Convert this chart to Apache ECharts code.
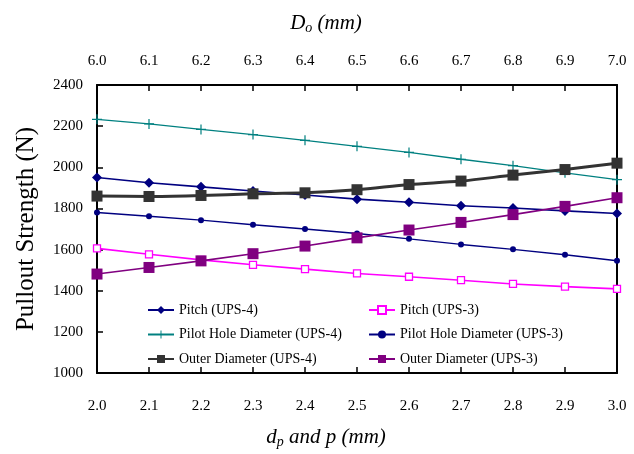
<!DOCTYPE html>
<html>
<head>
<meta charset="utf-8">
<script src="https://cdn.jsdelivr.net/npm/echarts@6/dist/echarts.min.js"></script>
<style>html,body{margin:0;padding:0;background:#fff}#c{width:634px;height:454px}</style>
</head>
<body>
<div id="c"></div>
<script>
var dp = [2.0, 2.1, 2.2, 2.3, 2.4, 2.5, 2.6, 2.7, 2.8, 2.9, 3.0];
var Do = [6.0, 6.1, 6.2, 6.3, 6.4, 6.5, 6.6, 6.7, 6.8, 6.9, 7.0];
var pitchUPS4 = [1950, 1925, 1905, 1885, 1865, 1845, 1830, 1813, 1802, 1788, 1775];
var pitchUPS3 = [1606, 1577, 1550, 1526, 1505, 1484, 1468, 1451, 1433, 1420, 1409];
var pilotUPS4 = [2233, 2211, 2184, 2159, 2131, 2102, 2072, 2039, 2008, 1973, 1940];
var pilotUPS3 = [1780, 1762, 1743, 1721, 1700, 1678, 1652, 1625, 1601, 1575, 1546];
var outerUPS4 = [1860, 1858, 1863, 1871, 1876, 1891, 1916, 1933, 1962, 1989, 2020];
var outerUPS3 = [1481, 1513, 1545, 1580, 1617, 1657, 1695, 1732, 1770, 1810, 1852];
var yTicks = {min: 1000, max: 2400, interval: 200};

function pairs(xs, ys) { return xs.map(function (x, i) { return [x, ys[i]]; }); }

var font = 'Liberation Serif';
var plus = 'path://M4.4,0h1.2v10h-1.2z M0,4.4h10v1.2h-10z';

var chart = echarts.init(document.getElementById('c'));
var axisCommon = {
  type: 'value', min: 2.0, max: 3.0, interval: 0.1,
  axisLine: {show: true, onZero: false, lineStyle: {color: '#000', width: 2}},
  axisTick: {show: true, inside: true, length: 6, lineStyle: {color: '#000', width: 1.5}},
  splitLine: {show: false},
  axisLabel: {fontFamily: font, fontSize: 15, color: '#000', formatter: function (v) { return v.toFixed(1); }}
};
var nameRich = {
  i: {fontFamily: font, fontStyle: 'italic', fontSize: 21, color: '#000'},
  s: {fontFamily: font, fontStyle: 'italic', fontSize: 14, color: '#000', padding: [10, 0, 0, 0]}
};
var legendText = {fontFamily: font, fontSize: 14, color: '#000'};
chart.setOption({
  animation: false,
  backgroundColor: '#fff',
  grid: {left: 97, right: 17, top: 85, bottom: 77, show: false},
  xAxis: [
    Object.assign({}, axisCommon, {
      position: 'bottom',
      axisLabel: Object.assign({}, axisCommon.axisLabel, {margin: 26}),
      name: '{i|d}{s|p}{i| and p (mm)}', nameLocation: 'middle', nameGap: 52,
      nameTextStyle: {rich: nameRich, padding: [0, 62, 0, 0]}
    }),
    Object.assign({}, axisCommon, {
      position: 'top', min: 6.0, max: 7.0, interval: 0.1,
      axisLabel: Object.assign({}, axisCommon.axisLabel, {margin: 16}),
      name: '{i|D}{s|o}{i| (mm)}', nameLocation: 'middle', nameGap: 50,
      nameTextStyle: {rich: nameRich, padding: [0, 62, 0, 0]}
    })
  ],
  yAxis: [
    {
      type: 'value', min: yTicks.min, max: yTicks.max, interval: yTicks.interval,
      axisLine: {show: true, lineStyle: {color: '#000', width: 2}},
      axisTick: {show: true, inside: true, length: 6, lineStyle: {color: '#000', width: 1.5}},
      splitLine: {show: false},
      axisLabel: {fontFamily: font, fontSize: 15, color: '#000', margin: 14, formatter: function (v) { return String(v); }},
      name: 'Pullout Strength (N)', nameLocation: 'middle', nameGap: 58,
      nameTextStyle: {fontFamily: font, fontSize: 25, color: '#000'}
    },
    {
      type: 'value', min: yTicks.min, max: yTicks.max, interval: yTicks.interval, position: 'right',
      axisLine: {show: true, lineStyle: {color: '#000', width: 2}},
      axisTick: {show: false}, axisLabel: {show: false}, splitLine: {show: false}
    }
  ],
  legend: [
    {
      left: 147, top: 303, orient: 'vertical', padding: 0, itemGap: 10.5, itemWidth: 26, itemHeight: 10,
      textStyle: legendText,
      data: ['Pitch (UPS-4)', 'Pilot Hole Diameter (UPS-4)', 'Outer Diameter (UPS-4)']
    },
    {
      left: 368, top: 303, orient: 'vertical', padding: 0, itemGap: 10.5, itemWidth: 26, itemHeight: 10,
      textStyle: legendText,
      data: ['Pitch (UPS-3)', 'Pilot Hole Diameter (UPS-3)', 'Outer Diameter (UPS-3)']
    }
  ],
  series: [
    {name: 'Pilot Hole Diameter (UPS-4)', type: 'line', data: pairs(dp, pilotUPS4), symbol: plus, symbolSize: 10,
      lineStyle: {color: '#008080', width: 1.3}, itemStyle: {color: '#008080'}},
    {name: 'Pitch (UPS-4)', type: 'line', data: pairs(dp, pitchUPS4), symbol: 'diamond', symbolSize: 10,
      lineStyle: {color: '#000080', width: 1.6}, itemStyle: {color: '#000080'}},
    {name: 'Pilot Hole Diameter (UPS-3)', type: 'line', data: pairs(dp, pilotUPS3), symbol: 'circle', symbolSize: 6,
      lineStyle: {color: '#000080', width: 1.4}, itemStyle: {color: '#000080'}},
    {name: 'Pitch (UPS-3)', type: 'line', data: pairs(dp, pitchUPS3), symbol: 'rect', symbolSize: 7,
      lineStyle: {color: '#ff00ff', width: 1.6}, itemStyle: {color: '#fff', borderColor: '#ff00ff', borderWidth: 1.3}},
    {name: 'Outer Diameter (UPS-3)', type: 'line', xAxisIndex: 1, data: pairs(Do, outerUPS3), symbol: 'rect', symbolSize: 11,
      lineStyle: {color: '#800080', width: 1.6}, itemStyle: {color: '#800080'}},
    {name: 'Outer Diameter (UPS-4)', type: 'line', xAxisIndex: 1, data: pairs(Do, outerUPS4), symbol: 'rect', symbolSize: 11,
      smooth: 0.3, lineStyle: {color: '#333333', width: 3}, itemStyle: {color: '#333333'}}
  ]
});
</script>
</body>
</html>
